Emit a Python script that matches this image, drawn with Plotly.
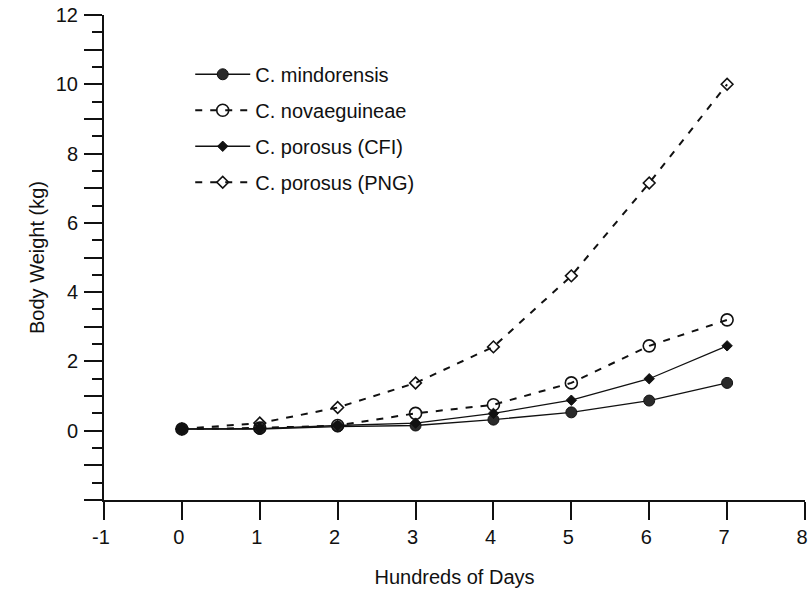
import plotly.graph_objects as go

# ---- data ----
days = [0, 1, 2, 3, 4, 5, 6, 7]  # hundreds of days
mindorensis = [0.05, 0.05, 0.12, 0.15, 0.32, 0.53, 0.87, 1.38]
novaeguineae = [0.05, 0.08, 0.15, 0.50, 0.75, 1.38, 2.45, 3.20]
porosus_cfi = [0.05, 0.06, 0.15, 0.22, 0.50, 0.88, 1.50, 2.45]
porosus_png = [0.05, 0.22, 0.67, 1.38, 2.42, 4.47, 7.15, 10.00]

series_names = ["C. mindorensis", "C. novaeguineae", "C. porosus (CFI)", "C. porosus (PNG)"]

x_tick_vals = [-1, 0, 1, 2, 3, 4, 5, 6, 7, 8]
x_tick_text = ["-1", "0", "1", "2", "3", "4", "5", "6", "7", "8"]
y_tick_vals = [-2, -1, 0, 1, 2, 3, 4, 5, 6, 7, 8, 9, 10, 11, 12]
y_tick_text = ["", "", "0", "", "2", "", "4", "", "6", "", "8", "", "10", "", "12"]

FONT = "Liberation Sans, Arial, Helvetica, sans-serif"
INK = "#111111"

fig = go.Figure()

fig.add_trace(go.Scatter(
    x=days, y=mindorensis, name=series_names[0], legendgroup="a",
    mode="lines+markers",
    line=dict(color=INK, width=1.3, dash="solid"),
    marker=dict(symbol="circle", size=11, color="#2a2a2a", line=dict(color=INK, width=1)),
))
fig.add_trace(go.Scatter(
    x=days, y=novaeguineae, name=series_names[1], legendgroup="b",
    mode="lines+markers",
    line=dict(color=INK, width=2, dash="7px,8px"),
    marker=dict(symbol="circle-open", size=12, color=INK, line=dict(color=INK, width=1.6)),
))
fig.add_trace(go.Scatter(
    x=days, y=porosus_cfi, name=series_names[2], legendgroup="c",
    mode="lines+markers",
    line=dict(color=INK, width=1.3, dash="solid"),
    marker=dict(symbol="diamond", size=8, color=INK, line=dict(color=INK, width=1)),
))
fig.add_trace(go.Scatter(
    x=days, y=porosus_png, name=series_names[3], legendgroup="d",
    mode="lines+markers",
    line=dict(color=INK, width=2, dash="7px,8px"),
    marker=dict(symbol="diamond-open", size=9, color=INK, line=dict(color=INK, width=1.6)),
))

fig.update_layout(
    width=808, height=593,
    margin=dict(l=104, r=3, t=15, b=93),
    paper_bgcolor="white", plot_bgcolor="white",
    font=dict(family=FONT, size=20, color=INK),
    showlegend=True,
    legend=dict(
        x=0.123, y=0.918, xanchor="left", yanchor="top",
        bgcolor="rgba(0,0,0,0)", borderwidth=0,
        font=dict(family=FONT, size=20, color=INK),
        itemwidth=55, tracegroupgap=7,
    ),
)

fig.update_xaxes(
    range=[-1, 8], showgrid=False, zeroline=False,
    showline=True, linecolor=INK, linewidth=2,
    ticks="outside", ticklen=18, tickwidth=2, tickcolor=INK,
    tickmode="array", tickvals=x_tick_vals, ticktext=x_tick_text,
    ticklabelstandoff=0, ticklabeloverflow="allow", ticklabelshift=-3,
    tickfont=dict(family=FONT, size=20, color=INK),
    title=dict(text="Hundreds of Days", font=dict(family=FONT, size=20, color=INK), standoff=23),
    automargin=False,
)
fig.update_yaxes(
    range=[-2, 12], showgrid=False, zeroline=False,
    showline=True, linecolor=INK, linewidth=2,
    ticks="outside", ticklen=18, tickwidth=2, tickcolor=INK,
    tickmode="array", tickvals=y_tick_vals, ticktext=y_tick_text,
    ticklabelstandoff=2, ticklabeloverflow="allow",
    tickfont=dict(family=FONT, size=20, color=INK),
    minor=dict(ticks="outside", dtick=0.5, tick0=0, ticklen=10, tickwidth=1.5, tickcolor=INK, showgrid=False),
    title=dict(text="Body Weight (kg)", font=dict(family=FONT, size=20, color=INK), standoff=6),
    automargin=False,
)

# remove the default 8px page margin so the 808x593 figure fills the window exactly
fig.write_html(
    "out.html",
    config={"displayModeBar": False},
    post_script="document.body.style.margin='0';document.body.style.overflow='hidden';",
)
